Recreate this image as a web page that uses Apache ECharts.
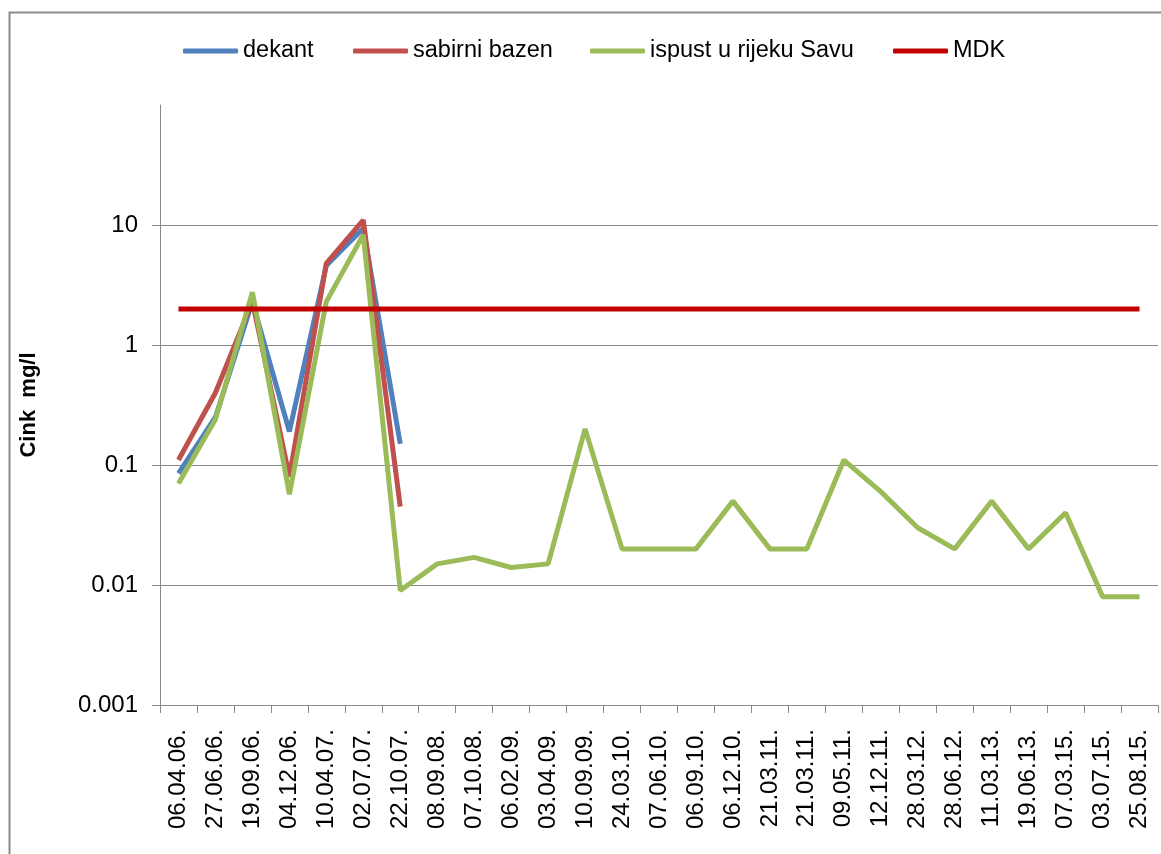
<!DOCTYPE html>
<html>
<head>
    <meta charset="UTF-8">
    <title>Cink</title>
    <script src="https://cdn.jsdelivr.net/npm/echarts@6/dist/echarts.min.js"></script>
    <style>
        html, body { margin: 0; padding: 0; background: #fff; }
        #main { width: 1161px; height: 854px; }
    </style>
</head>
<body>
<div id="main"></div>
<script type="text/javascript">
    // datumi uzorkovanja
    var dates = ['06.04.06.', '27.06.06.', '19.09.06.', '04.12.06.', '10.04.07.', '02.07.07.', '22.10.07.',
        '08.09.08.', '07.10.08.', '06.02.09.', '03.04.09.', '10.09.09.', '24.03.10.', '07.06.10.',
        '06.09.10.', '06.12.10.', '21.03.11.', '21.03.11.', '09.05.11.', '12.12.11.', '28.03.12.',
        '28.06.12.', '11.03.13.', '19.06.13.', '07.03.15.', '03.07.15.', '25.08.15.'];

    var dekant = [0.085, 0.25, 2.3, 0.19, 4.6, 9.4, 0.15];
    var sabirniBazen = [0.11, 0.4, 2.3, 0.08, 4.8, 11, 0.045];
    var ispust = [0.07, 0.24, 2.75, 0.057, 2.3, 8.3, 0.009, 0.015, 0.017, 0.014, 0.015, 0.2, 0.02, 0.02,
        0.02, 0.05, 0.02, 0.02, 0.11, 0.06, 0.03, 0.02, 0.05, 0.02, 0.04, 0.008, 0.008];
    var mdkValue = 2;
    var mdk = dates.map(function () { return mdkValue; });

    var yTicks = [0.001, 0.01, 0.1, 1, 10]; // 100 je gornja granica bez oznake

    var seriesNames = ['dekant', 'sabirni bazen', 'ispust u rijeku Savu', 'MDK'];
    var legendLeft = [183, 353, 590, 893];

    var myChart = echarts.init(document.getElementById('main'));

    var font = 'Liberation Sans, Arial, sans-serif';

    // svaka stavka legende zasebno, da se poklopi s originalom
    var legends = seriesNames.map(function (n, i) {
        return {
            left: legendLeft[i],
            top: 39,
            padding: 0,
            itemWidth: 55,
            itemHeight: 5,
            icon: 'roundRect',
            textStyle: { fontSize: 23.5, color: '#000', fontFamily: font },
            data: [n]
        };
    });

    var option = {
        backgroundColor: '#fff',
        animation: false,
        textStyle: { fontFamily: font },
        graphic: [{
            type: 'rect',
            left: 7, top: 10,
            shape: { width: 1200, height: 900 },
            style: { fill: 'none', stroke: '#8a8a8a', lineWidth: 2 },
            silent: true
        }],
        legend: legends,
        grid: { left: 160, right: 3, top: 105, bottom: 149 },
        xAxis: {
            type: 'category',
            data: dates,
            boundaryGap: true,
            axisLine: { lineStyle: { color: '#888', width: 1 } },
            axisTick: { show: true, length: 8, alignWithLabel: false, lineStyle: { color: '#888' } },
            axisLabel: {
                rotate: 90, interval: 0, margin: 24,
                fontSize: 24, color: '#000', fontFamily: font
            }
        },
        yAxis: {
            type: 'log',
            logBase: 10,
            min: 0.001,
            max: 100,
            name: 'Cink  mg/l',
            nameLocation: 'middle',
            nameGap: 120,
            nameTextStyle: { fontSize: 22, fontWeight: 'bold', color: '#000', fontFamily: font },
            axisLine: { show: true, lineStyle: { color: '#888', width: 1 } },
            axisTick: { show: true, length: 8, customValues: yTicks, lineStyle: { color: '#888' } },
            axisLabel: {
                margin: 22, fontSize: 24, color: '#000', fontFamily: font,
                customValues: yTicks,
                formatter: function (v) {
                    for (var i = 0; i < yTicks.length; i++) {
                        if (Math.abs(v - yTicks[i]) < yTicks[i] * 1e-6) return String(yTicks[i]);
                    }
                    return '';
                }
            },
            splitLine: {
                show: true,
                lineStyle: { color: ['#888', '#888', '#888', '#888', '#888', 'rgba(0,0,0,0)'], width: 1 }
            }
        },
        series: [
            {
                name: 'dekant', type: 'line', data: dekant, symbol: 'none',
                itemStyle: { color: '#4F81BD' }, lineStyle: { color: '#4F81BD', width: 5 }
            },
            {
                name: 'sabirni bazen', type: 'line', data: sabirniBazen, symbol: 'none',
                itemStyle: { color: '#C0504D' }, lineStyle: { color: '#C0504D', width: 5 }
            },
            {
                name: 'ispust u rijeku Savu', type: 'line', data: ispust, symbol: 'none',
                itemStyle: { color: '#9BBB59' }, lineStyle: { color: '#9BBB59', width: 5 }
            },
            {
                name: 'MDK', type: 'line', data: mdk, symbol: 'none',
                itemStyle: { color: '#C00000' }, lineStyle: { color: '#C00000', width: 5 }
            }
        ]
    };

    myChart.setOption(option);
</script>
</body>
</html>
